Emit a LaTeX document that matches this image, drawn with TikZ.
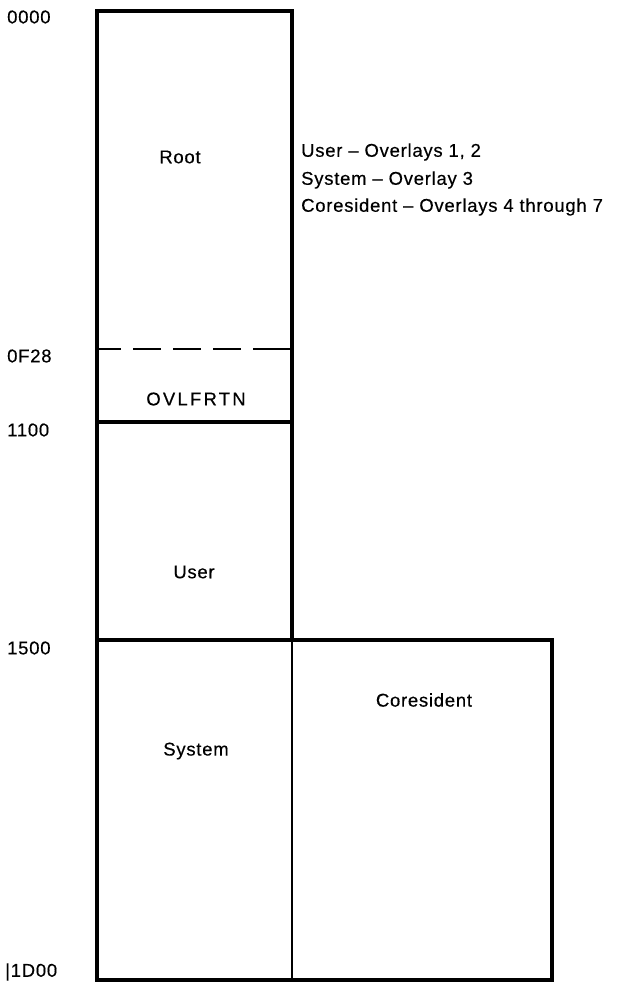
\documentclass[tikz,border=0pt]{standalone}
\usepackage{fontspec}
\setmainfont{Liberation Sans}[LetterSpace=4,FakeBold=0.35]
\newfontfamily\widelbl{Liberation Sans}[LetterSpace=12,FakeBold=0.35]
\begin{document}
\begin{tikzpicture}[x=1pt,y=-1pt,
  frame/.style={line width=3.3pt},
  divider/.style={line width=1.8pt},
  addr/.style={anchor=west,inner sep=0pt,font=\fontsize{18.5}{20}\selectfont},
  region/.style={inner sep=0pt,font=\fontsize{18.5}{20}\selectfont},
  note/.style={anchor=west,inner sep=0pt,font=\fontsize{18.5}{20}\selectfont}]
  \useasboundingbox (0,0) rectangle (633,988);

  % memory boundaries
  \coordinate (tl) at (97,11);
  \coordinate (tr) at (292,11);
  \coordinate (dl) at (97,349);
  \coordinate (dr) at (292,349);
  \coordinate (ul) at (97,422);
  \coordinate (ur) at (292,422);
  \coordinate (sl) at (97,640);
  \coordinate (sm) at (292,640);
  \coordinate (sr) at (552,640);
  \coordinate (bl) at (97,980);
  \coordinate (bm) at (292,980);
  \coordinate (br) at (552,980);

  % root, OVLFRTN and user area
  \draw[frame] (sl) -- (tl) -- (tr) -- (sm);
  \draw[frame] (ul) -- (ur);
  \draw[line width=2.8pt,dash pattern=on 24pt off 12pt on 28pt off 12pt on 28pt off 12pt on 28pt off 12pt on 40pt] (dl) -- (dr);

  % overlay area (system and coresident)
  \draw[frame] (sl) -- (sr) -- (br) -- (bl) -- cycle;
  \draw[divider] (sm) -- (bm);

  % address labels
  \node[addr] (a0) at (7,17) {0000};
  \node[addr] (a1) at (7,356) {0F28};
  \node[addr] (a2) at (7,430) {1100};
  \node[addr] (a3) at (7,648) {1500};
  \node[addr] (a4) at (5,972) {|1D00};

  % region names
  \node[region] (root) at (180,157) {Root};
  \node[region] (ovl) at (196,399) {\widelbl OVLFRTN};
  \node[region] (user) at (194,572) {User};
  \node[region] (sys) at (196,751) {System};
  \node[region] (cores) at (424,700) {Coresident};

  % overlay assignments
  \node[note] (n1) at (301,152) {User -- Overlays 1, 2};
  \node[note] (n2) at (301,180) {System -- Overlay 3};
  \node[note] (n3) at (301,207) {Coresident -- Overlays 4 through 7};
\end{tikzpicture}
\end{document}
